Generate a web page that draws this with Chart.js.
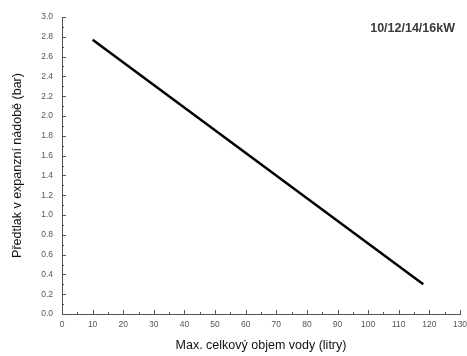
<!DOCTYPE html>
<html>
<head>
<meta charset="utf-8">
<script src="https://cdn.jsdelivr.net/npm/chart.js@4/dist/chart.umd.min.js"></script>
<style>
  html, body { margin: 0; padding: 0; background: #fff; }
  #wrap { width: 467px; height: 356px; position: relative; }
</style>
</head>
<body>
<div id="wrap"><canvas id="chart"></canvas></div>
<script>
const volumes = [10, 118];
const pressures = [2.77, 0.3];
const seriesLabel = "10/12/14/16kW";
const xTitle = "Max. celkový objem vody (litry)";
const yTitle = "Předtlak v expanzní nádobě (bar)";

const FONT = "'Liberation Sans', Arial, sans-serif";

// small inward ticks, major + minor, like the original drawing
const innerTicks = {
  id: "innerTicks",
  afterDraw(chart) {
    const { ctx, chartArea, scales } = chart;
    ctx.save();
    ctx.strokeStyle = "#555";
    ctx.lineWidth = 1;
    ctx.beginPath();
    for (let v = 0; v <= 130; v += 5) {
      const x = Math.round(scales.x.getPixelForValue(v)) + 0.5;
      const len = v % 10 === 0 ? 4 : 2;
      ctx.moveTo(x, chartArea.bottom);
      ctx.lineTo(x, chartArea.bottom - len);
    }
    for (let i = 0; i <= 30; i++) {
      const y = Math.round(scales.y.getPixelForValue(i / 10)) + 0.5;
      const len = i % 2 === 0 ? 4 : 2;
      ctx.moveTo(chartArea.left, y);
      ctx.lineTo(chartArea.left + len, y);
    }
    ctx.stroke();
    ctx.fillStyle = "#3a3a3a";
    ctx.font = "bold 12.5px " + FONT;
    ctx.textAlign = "right";
    ctx.textBaseline = "alphabetic";
    ctx.fillText(seriesLabel, 455, 32);
    ctx.restore();
  }
};

new Chart(document.getElementById("chart"), {
  type: "line",
  data: {
    datasets: [{
      label: seriesLabel,
      data: volumes.map((v, i) => ({ x: v, y: pressures[i] })),
      borderColor: "#000",
      borderWidth: 2.5,
      pointRadius: 0,
      tension: 0
    }]
  },
  options: {
    responsive: true,
    maintainAspectRatio: false,
    animation: false,
    layout: { padding: { top: 17, right: 7, left: 0, bottom: 0 } },
    plugins: { legend: { display: false }, tooltip: { enabled: false } },
    scales: {
      x: {
        type: "linear",
        min: 0,
        max: 130,
        afterFit: s => { s.height = 42; s.paddingRight = 0; s.paddingLeft = 0; },
        ticks: { stepSize: 10, color: "#555", padding: 6, font: { size: 8.5, family: FONT } },
        grid: { display: true, drawOnChartArea: false, drawTicks: false },
        border: { display: true, color: "#555", width: 1 },
        title: { display: true, text: xTitle, color: "#111", padding: { top: 0, bottom: 3 }, font: { size: 12.5, family: FONT } }
      },
      y: {
        min: 0,
        max: 3,
        afterFit: s => { s.width = 62; },
        ticks: { stepSize: 0.2, color: "#555", padding: 9, callback: v => v.toFixed(1), font: { size: 8.5, family: FONT } },
        grid: { display: true, drawOnChartArea: false, drawTicks: false },
        border: { display: true, color: "#555", width: 1 },
        title: { display: true, text: yTitle, color: "#111", padding: { top: 10, bottom: 0 }, font: { size: 12.5, family: FONT } }
      }
    }
  },
  plugins: [innerTicks]
});
</script>
</body>
</html>
